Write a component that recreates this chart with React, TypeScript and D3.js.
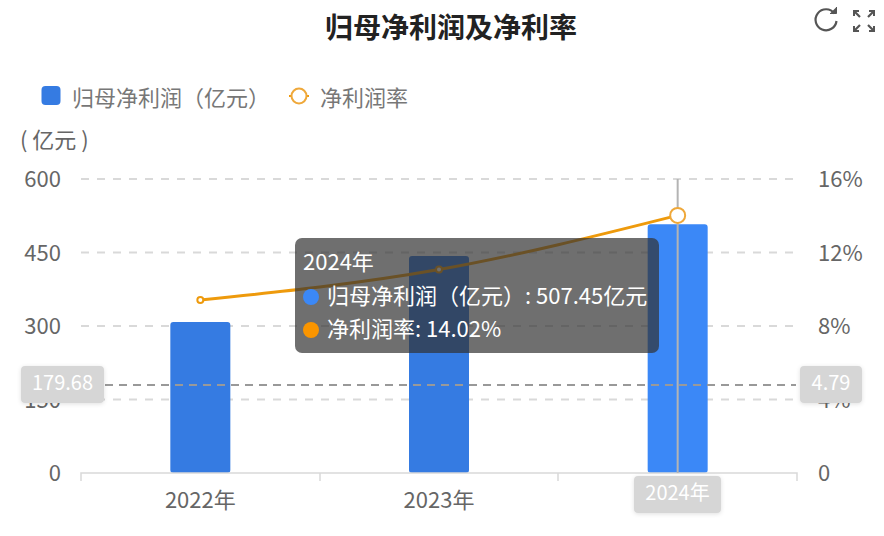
import React from "react";
import * as d3 from "d3";

const years = ["2022年", "2023年", "2024年"];
const profit = [308, 443, 507.45];
const margin = [9.41, 11.07, 14.02];
const barColors = ["#357BE2", "#357BE2", "#3B88F7"];
const leftTicks = [0, 150, 300, 450, 600];
const rightTicks = [0, 4, 8, 12, 16];
const rightLabels = ["0", "4%", "8%", "12%", "16%"];
const markerLeft = "179.68";
const markerRight = "4.79";
const FONT = '"Noto Sans CJK SC", "Noto Sans", sans-serif';

const x = d3.scaleBand<string>().domain(years).range([81, 797]);
const yL = d3.scaleLinear().domain([0, 600]).range([473, 179]);
const yR = d3.scaleLinear().domain([0, 16]).range([473, 179]);
const cx = (y: string) => x(y)! + x.bandwidth() / 2;
const barW = 60;

const barPath = (x0: number, y0: number, w: number, h: number, r: number) =>
  `M${x0},${y0 + h}a${r},${r} 0 0 1 ${-0},0V${y0 + r}a${r},${r} 0 0 1 ${r},${-r}H${x0 + w - r}a${r},${r} 0 0 1 ${r},${r}V${y0 + h - r}a${r},${r} 0 0 1 ${-r},${r}H${x0 + r}a${r},${r} 0 0 1 ${-r},${-r}Z`;

export default function App() {
  const line = d3
    .line<number>()
    .x((_, i) => cx(years[i]))
    .y((d) => yR(d))
    .curve(d3.curveMonotoneX);
  const tick = { fontSize: 22, fill: "#666", fontFamily: FONT };
  const hx = cx(years[2]);
  return (
    <svg
      width={884}
      height={536}
      style={{ position: "absolute", left: 0, top: 0, background: "#fff" }}
    >
      <defs>
        <filter id="sh" x="-20%" y="-20%" width="140%" height="140%">
          <feDropShadow dx="0" dy="1" stdDeviation="2" floodColor="#000" floodOpacity="0.12" />
        </filter>
      </defs>
      <text x={451} y={38} textAnchor="middle" fontFamily={FONT} fontWeight={700} fontSize={28} fill="#222">
        归母净利润及净利率
      </text>

      {/* toolbox */}
      <g fill="none" stroke="#555" strokeWidth={2.2}>
        <path d="M834.5,13.5A10.5,10.5 0 1 0 836.5,21" />
        <path d="M830,13.5H836.5V7" fill="#555" strokeWidth={1} />
        <path d="M855,12l5,5M873,12l-5,5M855,30l5,-5M873,30l-5,-5" />
        <path d="M854,16v-5h5M874,16v-5h-5M854,26v5h5M874,26v5h-5" strokeWidth={2} />
      </g>

      {/* legend */}
      <rect x={41.5} y={86} width={19} height={19} rx={4} fill="#357BE2" />
      <text x={72} y={106} {...tick} fill="#777">归母净利润（亿元）</text>
      <line x1={289} x2={309} y1={96} y2={96} stroke="#F09A0B" strokeWidth={2} />
      <circle cx={299} cy={96} r={7.5} fill="#fff" stroke="#EFA83A" strokeWidth={2} />
      <text x={320} y={106} {...tick} fill="#777">净利润率</text>
      <text x={20} y={148} {...tick}>( 亿元 )</text>

      {/* grid */}
      {leftTicks.slice(1).map((t) => (
        <line key={t} x1={81} x2={797} y1={yL(t)} y2={yL(t)} stroke="#D9D9D9" strokeWidth={2} strokeDasharray="8 8" />
      ))}

      {/* axis ticks */}
      {leftTicks.map((t) => (
        <text key={t} x={61} y={yL(t) + 8} textAnchor="end" {...tick}>{t}</text>
      ))}
      {rightTicks.map((t, i) => (
        <text key={t} x={818} y={yR(t) + 8} {...tick}>{rightLabels[i]}</text>
      ))}
      {years.slice(0, 2).map((y) => (
        <text key={y} x={cx(y)} y={508} textAnchor="middle" {...tick}>{y}</text>
      ))}

      {/* bars */}
      {years.map((y, i) => (
        <path
          key={y}
          d={barPath(cx(y) - barW / 2, yL(profit[i]), barW, yL(0) - yL(profit[i]), 3)}
          fill={barColors[i]}
        />
      ))}

      {/* x axis */}
      <path d="M81,481V473H797V481" fill="none" stroke="#D9D9D9" strokeWidth={1.5} />
      <line x1={320} x2={320} y1={473} y2={481} stroke="#D9D9D9" strokeWidth={1.5} />
      <line x1={558} x2={558} y1={473} y2={481} stroke="#D9D9D9" strokeWidth={1.5} />

      {/* pointers */}
      <line x1={hx} x2={hx} y1={179} y2={473} stroke="#B4B4B4" strokeWidth={2} />
      <line x1={105} x2={796} y1={yL(179.68)} y2={yL(179.68)} stroke="#999" strokeWidth={2} strokeDasharray="8 6" />

      {/* rate line */}
      <path d={line(margin) ?? ""} fill="none" stroke="#EE9A0C" strokeWidth={3} strokeLinejoin="round" />
      {margin.slice(0, 2).map((m, i) => (
        <circle key={i} cx={cx(years[i])} cy={yR(m)} r={3} fill="#fff" stroke="#EE9A0C" strokeWidth={2} />
      ))}
      <circle cx={hx} cy={yR(margin[2])} r={7.5} fill="#fff" stroke="#EFA83A" strokeWidth={2} />

      {/* pointer labels */}
      <g filter="url(#sh)">
        <rect x={21} y={366} width={83} height={37} rx={4} fill="#D6D6D6" />
        <rect x={800} y={366} width={62} height={37} rx={4} fill="#D6D6D6" />
        <rect x={634} y={476} width={87} height={37} rx={4} fill="#D6D6D6" />
      </g>
      <g fontFamily={FONT} fontSize={20} fill="#fff" textAnchor="middle">
        <text x={62.5} y={390}>{markerLeft}</text>
        <text x={831} y={390}>{markerRight}</text>
        <text x={677.5} y={500}>{years[2]}</text>
      </g>

      {/* tooltip */}
      <rect x={295} y={238} width={364} height={115} rx={7} fill="rgb(50,50,50)" fillOpacity={0.7} />
      <g fontFamily={FONT} fontSize={22} fill="#fff">
        <text x={303} y={270}>{years[2]}</text>
        <circle cx={311} cy={297} r={8} fill="#3B88F7" />
        <text x={327} y={304}>归母净利润（亿元）: {profit[2].toFixed(2)}亿元</text>
        <circle cx={311} cy={330} r={8} fill="#FA9500" />
        <text x={327} y={337}>净利润率: {margin[2].toFixed(2)}%</text>
      </g>
    </svg>
  );
}
